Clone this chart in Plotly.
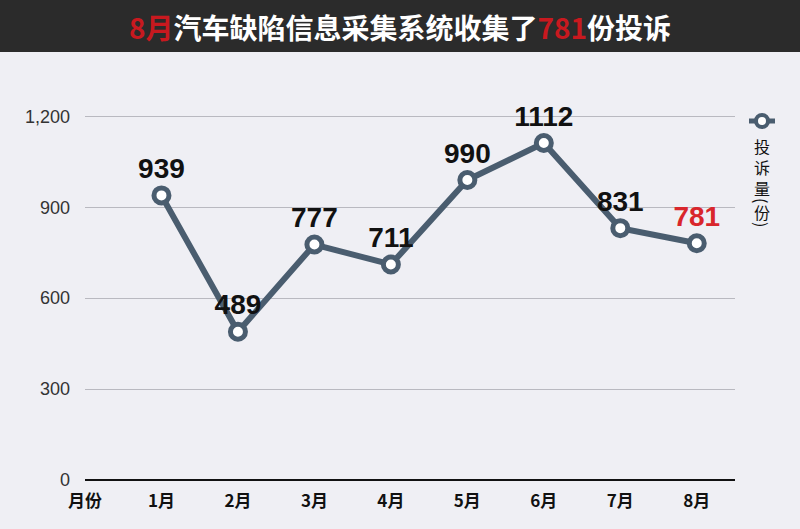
import plotly.graph_objects as go

# data
months = ['1月', '2月', '3月', '4月', '5月', '6月', '7月', '8月']
complaints = [939, 489, 777, 711, 990, 1112, 831, 781]
label_colors = ['#111111'] * 7 + ['#d9262c']
y_ticks = [0, 300, 600, 900, 1200]
y_tick_text = ['0', '300', '600', '900', '1,200']
x_ticks = ['月份'] + months

line_col = '#4a5d6f'
bg = '#efeff4'

xpos = list(range(1, len(months) + 1))

fig = go.Figure()
fig.add_trace(go.Scatter(
    x=xpos, y=complaints,
    mode='lines+markers+text',
    line=dict(color=line_col, width=6),
    marker=dict(size=15, color='white', line=dict(color=line_col, width=5)),
    text=[str(v) for v in complaints],
    textposition='top center',
    textfont=dict(family='Liberation Sans', size=28, color=label_colors,
                  weight='bold'),
    cliponaxis=False,
    showlegend=False,
    hoverinfo='skip',
))

fig.update_layout(
    width=800, height=529,
    paper_bgcolor=bg, plot_bgcolor=bg,
    margin=dict(l=85, r=65, t=86, b=49),
    xaxis=dict(
        range=[0, 8.5],
        tickvals=list(range(len(x_ticks))),
        ticktext=x_ticks,
        showgrid=False, zeroline=False, showline=False,
        tickfont=dict(family='Noto Sans CJK SC', size=17, color='#111111',
                      weight='bold'),
        ticklabelstandoff=9,
    ),
    yaxis=dict(
        range=[0, 1300],
        tickvals=y_ticks, ticktext=y_tick_text,
        showgrid=True, gridcolor='#b9b9c0', gridwidth=1,
        zeroline=True, zerolinecolor='#111111', zerolinewidth=2,
        showline=False,
        tickfont=dict(family='Liberation Sans', size=18, color='#333333'),
        ticklabelstandoff=14,
    ),
)

# pixel helpers for paper coords
def px_x(p):
    return (p - 85) / 650


def px_y(p):
    return (480 - p) / 394


# dark title bar
fig.add_shape(type='rect', xref='paper', yref='paper',
              x0=px_x(0), x1=px_x(800), y0=px_y(52), y1=px_y(0),
              fillcolor='#2b2b2b', line=dict(width=0), layer='below')
fig.add_annotation(
    xref='paper', yref='paper', x=px_x(400), y=px_y(27),
    xanchor='center', yanchor='middle',
    text="<span style='color:#c8191f'>8月</span>汽车缺陷信息采集系统收集了"
         "<span style='color:#c8191f'>781</span>份投诉",
    showarrow=False,
    font=dict(family='Noto Sans CJK SC', size=28, color='white', weight='bold'),
)

# legend, drawn by hand with vertical text
fig.add_shape(type='line', xref='paper', yref='paper',
              x0=px_x(749), x1=px_x(775), y0=px_y(121), y1=px_y(121),
              line=dict(color=line_col, width=5))
fig.add_shape(type='circle', xref='paper', yref='paper',
              x0=px_x(756), x1=px_x(768), y0=px_y(127), y1=px_y(115),
              fillcolor='white', line=dict(color=line_col, width=4))
legend_chars = [('投<br>诉<br>量', 167, 0), ('(', 200, 90), ('份', 212, 0),
                (')', 224, 90)]
for ch, yy, ang in legend_chars:
    fig.add_annotation(
        xref='paper', yref='paper', x=px_x(762), y=px_y(yy),
        xanchor='center', yanchor='middle',
        text=ch, showarrow=False, textangle=ang, borderpad=0,
        font=dict(family='Noto Sans CJK SC', size=16, color='#111111'),
    )

fig.write_html('out.html', config={'displayModeBar': False},
               post_script="document.body.style.margin='0';")
